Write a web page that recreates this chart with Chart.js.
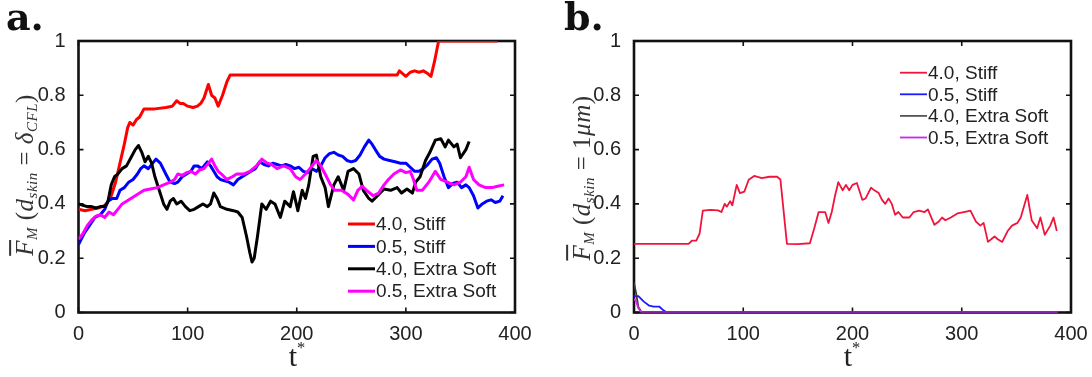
<!DOCTYPE html>
<html>
<head>
<meta charset="utf-8">
<script src="https://cdn.jsdelivr.net/npm/chart.js@4.4.1/dist/chart.umd.min.js"></script>
<style>
  body { margin: 0; background: #fff; }
  #wrap { position: relative; width: 1092px; height: 377px; overflow: hidden; }
  canvas { position: absolute; top: 0; }
  #chartA { left: 0; }
  #chartB { left: 560px; }
  .panel { position: absolute; top: -6px; font: bold 38px "DejaVu Serif"; color: #111; }
  .ytitle { position: absolute; white-space: nowrap; transform: translate(-50%, -50%) rotate(-90deg);
            font: 25px "Liberation Serif"; color: #333; letter-spacing: 0.5px; }
  .ytitle i { font-style: italic; }
  .ytitle sub { font-size: 60%; vertical-align: -0.25em; font-style: italic; }
  .bar { text-decoration: overline; }
  .xtitle { position: absolute; top: 338px; transform: translateX(-50%); font: 30px "Liberation Serif"; color: #222; }
  .xtitle sup { font-size: 55%; vertical-align: 0.8em; }
</style>
</head>
<body>
<div id="wrap">
  <canvas id="chartA" width="560" height="377"></canvas>
  <canvas id="chartB" width="532" height="377"></canvas>
  <div class="panel" style="left:6px">a.</div>
  <div class="panel" style="left:564px">b.</div>
  <div class="ytitle" style="left:26px; top:175px"><i class="bar">F</i><sub>M</sub> (<i>d</i><sub>skin</sub> = <i>δ</i><sub>CFL</sub>)</div>
  <div class="ytitle" style="left:583px; top:178px"><i class="bar">F</i><sub>M</sub> (<i>d</i><sub>skin</sub> = 1<i>μm</i>)</div>
  <div class="xtitle" style="left:297px">t<sup>*</sup></div>
  <div class="xtitle" style="left:852px">t<sup>*</sup></div>
</div>
<script>
// ---- panel a: d_skin = delta_CFL ----
const tRedA = [0, 6, 12, 18, 22, 26, 30, 34, 38, 42, 45, 47, 50, 53, 56, 60, 70, 80, 86, 90,
  93, 96, 100, 105, 109, 112, 115, 119, 122, 125, 128, 132, 136, 139, 200, 250, 292, 294, 297, 300,
  304, 308, 312, 316, 320, 323, 326, 330, 384];
const fRedA = [0.38, 0.375, 0.38, 0.385, 0.39, 0.40, 0.43, 0.48, 0.55, 0.62, 0.68, 0.70, 0.69, 0.71, 0.72, 0.75, 0.75, 0.755, 0.76, 0.78,
  0.77, 0.77, 0.76, 0.755, 0.76, 0.77, 0.79, 0.84, 0.80, 0.79, 0.76, 0.80, 0.85, 0.875, 0.875, 0.875, 0.875, 0.89, 0.88, 0.87,
  0.885, 0.89, 0.885, 0.89, 0.88, 0.87, 0.92, 1.0, 1.0];

const tBlueA = [0, 5, 10, 15, 20, 24, 27, 31, 35, 38, 42, 46, 50, 54, 57, 60, 64, 68, 71, 75,
  80, 84, 88, 91, 95, 99, 103, 106, 109, 113, 118, 121, 124, 127, 130, 134, 138, 142, 146, 150,
  154, 158, 162, 166, 170, 174, 178, 182, 186, 190, 194, 198, 202, 206, 210, 214, 218, 222, 226, 230,
  234, 238, 242, 246, 250, 254, 258, 262, 266, 269, 272, 276, 280, 285, 290, 295, 300, 304, 308, 312,
  316, 320, 324, 328, 331, 335, 339, 343, 347, 351, 355, 358, 362, 366, 370, 374, 378, 382, 386, 389];
const fBlueA = [0.25, 0.29, 0.32, 0.35, 0.36, 0.38, 0.41, 0.42, 0.42, 0.45, 0.46, 0.48, 0.49, 0.51, 0.53, 0.54, 0.53, 0.55, 0.565, 0.55,
  0.51, 0.48, 0.475, 0.48, 0.50, 0.51, 0.52, 0.54, 0.54, 0.53, 0.555, 0.54, 0.52, 0.50, 0.49, 0.485, 0.48, 0.47, 0.49, 0.50,
  0.51, 0.52, 0.53, 0.555, 0.545, 0.54, 0.55, 0.545, 0.54, 0.545, 0.54, 0.53, 0.535, 0.52, 0.515, 0.53, 0.52, 0.54, 0.57, 0.585,
  0.59, 0.58, 0.575, 0.56, 0.555, 0.56, 0.58, 0.61, 0.635, 0.62, 0.60, 0.575, 0.565, 0.56, 0.555, 0.55, 0.55, 0.535, 0.52, 0.52,
  0.53, 0.545, 0.565, 0.57, 0.55, 0.50, 0.46, 0.475, 0.48, 0.46, 0.47, 0.46, 0.43, 0.385, 0.40, 0.41, 0.415, 0.405, 0.41, 0.43];

const tBlackA = [0, 4, 8, 12, 16, 20, 24, 27, 30, 33, 36, 40, 44, 48, 52, 55, 58, 61, 64, 67,
  70, 74, 78, 81, 84, 87, 90, 94, 98, 102, 106, 110, 114, 118, 121, 124, 127, 130, 136, 142,
  146, 150, 154, 157, 159, 161, 164, 168, 172, 176, 180, 185, 189, 194, 197, 201, 205, 208, 211, 215,
  218, 222, 226, 229, 234, 238, 243, 247, 252, 257, 261, 266, 269, 274, 280, 286, 292, 296, 301, 306,
  309, 313, 318, 322, 327, 332, 336, 339, 344, 347, 350, 355, 358];
const fBlackA = [0.40, 0.395, 0.39, 0.39, 0.385, 0.39, 0.39, 0.41, 0.47, 0.50, 0.51, 0.53, 0.54, 0.57, 0.60, 0.615, 0.59, 0.555, 0.575, 0.55,
  0.50, 0.45, 0.40, 0.38, 0.41, 0.42, 0.40, 0.41, 0.39, 0.375, 0.38, 0.39, 0.40, 0.39, 0.40, 0.44, 0.42, 0.39, 0.38, 0.375,
  0.37, 0.35, 0.28, 0.22, 0.186, 0.20, 0.28, 0.40, 0.38, 0.41, 0.40, 0.35, 0.41, 0.39, 0.445, 0.375, 0.45, 0.42, 0.47, 0.575,
  0.58, 0.50, 0.46, 0.39, 0.47, 0.50, 0.45, 0.52, 0.53, 0.51, 0.45, 0.42, 0.41, 0.43, 0.455, 0.45, 0.46, 0.44, 0.455, 0.44,
  0.48, 0.50, 0.56, 0.59, 0.635, 0.64, 0.61, 0.635, 0.61, 0.62, 0.57, 0.60, 0.63];

const tMagA = [0, 4, 8, 12, 16, 20, 24, 28, 32, 36, 40, 44, 48, 52, 56, 60, 66, 72, 78, 84,
  88, 91, 95, 99, 103, 107, 111, 115, 119, 122, 125, 128, 131, 136, 141, 145, 151, 157, 163, 168,
  173, 177, 182, 188, 194, 199, 203, 208, 212, 218, 222, 226, 231, 235, 241, 247, 252, 256, 260, 264,
  270, 275, 280, 284, 289, 295, 300, 304, 307, 310, 315, 321, 327, 332, 338, 344, 350, 355, 358, 362,
  367, 373, 379, 384, 390];
const fMagA = [0.27, 0.29, 0.32, 0.34, 0.355, 0.36, 0.35, 0.37, 0.36, 0.38, 0.40, 0.41, 0.42, 0.43, 0.44, 0.45, 0.455, 0.46, 0.47, 0.48,
  0.49, 0.51, 0.505, 0.515, 0.52, 0.51, 0.525, 0.53, 0.55, 0.565, 0.54, 0.52, 0.51, 0.49, 0.50, 0.51, 0.51, 0.52, 0.54, 0.565,
  0.55, 0.545, 0.53, 0.54, 0.53, 0.50, 0.49, 0.51, 0.53, 0.56, 0.54, 0.51, 0.47, 0.45, 0.45, 0.435, 0.415, 0.45, 0.465, 0.45,
  0.43, 0.44, 0.47, 0.49, 0.51, 0.525, 0.515, 0.52, 0.49, 0.45, 0.45, 0.48, 0.52, 0.49, 0.48, 0.47, 0.48, 0.50, 0.535, 0.49,
  0.47, 0.46, 0.46, 0.465, 0.47];

// ---- panel b: d_skin = 1 um ----
const tRedB = [0, 50, 53, 57, 60, 63, 70, 77, 80, 83, 85, 88, 90, 94, 97, 101, 105, 110, 117, 124,
  131, 134, 140, 150, 161, 165, 169, 175, 178, 181, 184, 187, 191, 194, 197, 200, 204, 209, 212, 217,
  220, 224, 227, 230, 233, 236, 239, 242, 246, 252, 256, 261, 266, 269, 275, 279, 282, 285, 290, 296,
  302, 308, 313, 317, 320, 324, 330, 333, 337, 342, 346, 351, 354, 360, 364, 369, 372, 376, 381, 384, 387];
const fRedB = [0.253, 0.253, 0.265, 0.265, 0.29, 0.375, 0.378, 0.376, 0.37, 0.40, 0.39, 0.41, 0.395, 0.47, 0.44, 0.445, 0.489, 0.503, 0.495, 0.50,
  0.50, 0.49, 0.253, 0.252, 0.255, 0.31, 0.37, 0.37, 0.33, 0.37, 0.43, 0.48, 0.45, 0.47, 0.45, 0.47, 0.477, 0.415, 0.42, 0.46,
  0.45, 0.44, 0.415, 0.40, 0.42, 0.40, 0.36, 0.37, 0.35, 0.35, 0.37, 0.375, 0.37, 0.38, 0.323, 0.335, 0.35, 0.34, 0.35, 0.365,
  0.37, 0.375, 0.335, 0.32, 0.33, 0.26, 0.28, 0.27, 0.26, 0.30, 0.32, 0.33, 0.35, 0.433, 0.34, 0.31, 0.35, 0.286, 0.32, 0.35, 0.30];

const tBlueB = [0, 4, 9, 14, 18, 23, 27, 30, 388];
const fBlueB = [0.06, 0.06, 0.04, 0.025, 0.022, 0.022, 0.008, 0, 0];

const tBlackB = [0, 2, 4, 7, 388];
const fBlackB = [0.11, 0.07, 0.02, 0, 0];

const tMagB = [0, 2, 4, 7, 388];
const fMagB = [0.05, 0.04, 0.015, 0, 0];

// ---- shared ----
const seriesLabels = ['4.0, Stiff', '0.5, Stiff', '4.0, Extra Soft', '0.5, Extra Soft'];
const xTicks = [0, 100, 200, 300, 400];
const xTickLabels = ['0', '100', '200', '300', '400'];
const yTicks = [0, 0.2, 0.4, 0.6, 0.8, 1];
const yTickLabels = ['0', '0.2', '0.4', '0.6', '0.8', '1'];

function toPoints(ts, fs) {
  return ts.map((t, i) => ({ x: t, y: fs[i] }));
}

// MATLAB style frame, drawn under the data like axes Layer = bottom
const matlabBox = {
  id: 'matlabBox',
  beforeDatasetsDraw(chart) {
    const { ctx, chartArea: a, scales } = chart;
    ctx.save();
    ctx.strokeStyle = '#111';
    ctx.lineWidth = 1.6;
    const len = 5;
    ctx.beginPath();
    xTicks.forEach(v => {
      const x = scales.x.getPixelForValue(v);
      ctx.moveTo(x, a.bottom); ctx.lineTo(x, a.bottom - len);
      ctx.moveTo(x, a.top); ctx.lineTo(x, a.top + len);
    });
    yTicks.forEach(v => {
      const y = scales.y.getPixelForValue(v);
      ctx.moveTo(a.left, y); ctx.lineTo(a.left + len, y);
      ctx.moveTo(a.right, y); ctx.lineTo(a.right - len, y);
    });
    ctx.stroke();
    ctx.lineWidth = 2.6;
    ctx.strokeRect(a.left, a.top, a.right - a.left, a.bottom - a.top);
    ctx.restore();
  }
};

// legend sitting inside the axes, short line touching the label
const insetLegend = {
  id: 'insetLegend',
  afterDraw(chart, args, opts) {
    const ctx = chart.ctx;
    ctx.save();
    ctx.font = opts.font;
    ctx.textBaseline = 'middle';
    chart.data.datasets.forEach((ds, i) => {
      const y = opts.top + i * opts.rowHeight;
      ctx.strokeStyle = opts.colors[i];
      ctx.lineWidth = opts.lineWidth;
      ctx.beginPath();
      ctx.moveTo(opts.left, y);
      ctx.lineTo(opts.left + opts.lineLength, y);
      ctx.stroke();
      ctx.fillStyle = '#222';
      ctx.fillText(ds.label, opts.left + opts.lineLength + 1, y + 1);
    });
    ctx.restore();
  }
};

function makeOptions(padding, legend) {
  const tickFont = { family: 'Liberation Sans', size: 20 };
  return {
    responsive: false,
    animation: false,
    devicePixelRatio: 1,
    layout: { padding: padding },
    parsing: false,
    plugins: {
      legend: { display: false },
      tooltip: { enabled: false },
      insetLegend: legend
    },
    elements: { point: { radius: 0 }, line: { tension: 0, borderJoinStyle: 'round' } },
    scales: {
      x: {
        type: 'linear', min: 0, max: 400,
        afterBuildTicks: s => { s.ticks = xTicks.map(v => ({ value: v })); },
        afterFit: s => { s.height = 30; },
        grid: { display: false },
        border: { display: false },
        ticks: { font: tickFont, color: '#222', padding: 2, maxRotation: 0,
          callback: (v, i) => xTickLabels[i] }
      },
      y: {
        type: 'linear', min: 0, max: 1,
        afterBuildTicks: s => { s.ticks = yTicks.map(v => ({ value: v })); },
        afterFit: s => { s.width = padding.yWidth; },
        grid: { display: false },
        border: { display: false },
        ticks: { font: tickFont, color: '#222', padding: 5,
          callback: (v, i) => yTickLabels[i] }
      }
    }
  };
}

const colorsA = ['#ff0000', '#0000ff', '#000000', '#ff00ff'];
new Chart(document.getElementById('chartA'), {
  type: 'line',
  data: {
    datasets: [
      { label: seriesLabels[0], data: toPoints(tRedA, fRedA), borderColor: colorsA[0], borderWidth: 3, order: 3 },
      { label: seriesLabels[1], data: toPoints(tBlueA, fBlueA), borderColor: colorsA[1], borderWidth: 3, order: 2 },
      { label: seriesLabels[2], data: toPoints(tBlackA, fBlackA), borderColor: colorsA[2], borderWidth: 3, order: 1 },
      { label: seriesLabels[3], data: toPoints(tMagA, fMagA), borderColor: colorsA[3], borderWidth: 3, order: 0 }
    ]
  },
  options: makeOptions({ left: 0, top: 41, right: 45, bottom: 34.5, yWidth: 78.5 },
    { left: 348, top: 224, rowHeight: 22.4, lineLength: 27, lineWidth: 3, colors: colorsA, font: '19px "Liberation Sans"' }),
  plugins: [matlabBox, insetLegend]
});

const colorsB = ['#f0143c', '#1a1aff', '#3a3a3a', '#e020f0'];
new Chart(document.getElementById('chartB'), {
  type: 'line',
  data: {
    datasets: [
      { label: seriesLabels[0], data: toPoints(tRedB, fRedB), borderColor: colorsB[0], borderWidth: 1.8, order: 3 },
      { label: seriesLabels[1], data: toPoints(tBlueB, fBlueB), borderColor: colorsB[1], borderWidth: 1.8, order: 2 },
      { label: seriesLabels[2], data: toPoints(tBlackB, fBlackB), borderColor: colorsB[2], borderWidth: 1.8, order: 1 },
      { label: seriesLabels[3], data: toPoints(tMagB, fMagB), borderColor: colorsB[3], borderWidth: 1.8, order: 0 }
    ]
  },
  options: makeOptions({ left: 0, top: 41, right: 21, bottom: 34.5, yWidth: 74 },
    { left: 340, top: 72.7, rowHeight: 21.6, lineLength: 27, lineWidth: 1.8, colors: ['#f0143c', '#1a1aff', '#555555', '#c828e8'], font: '19px "Liberation Sans"' }),
  plugins: [matlabBox, insetLegend]
});
</script>
</body>
</html>
